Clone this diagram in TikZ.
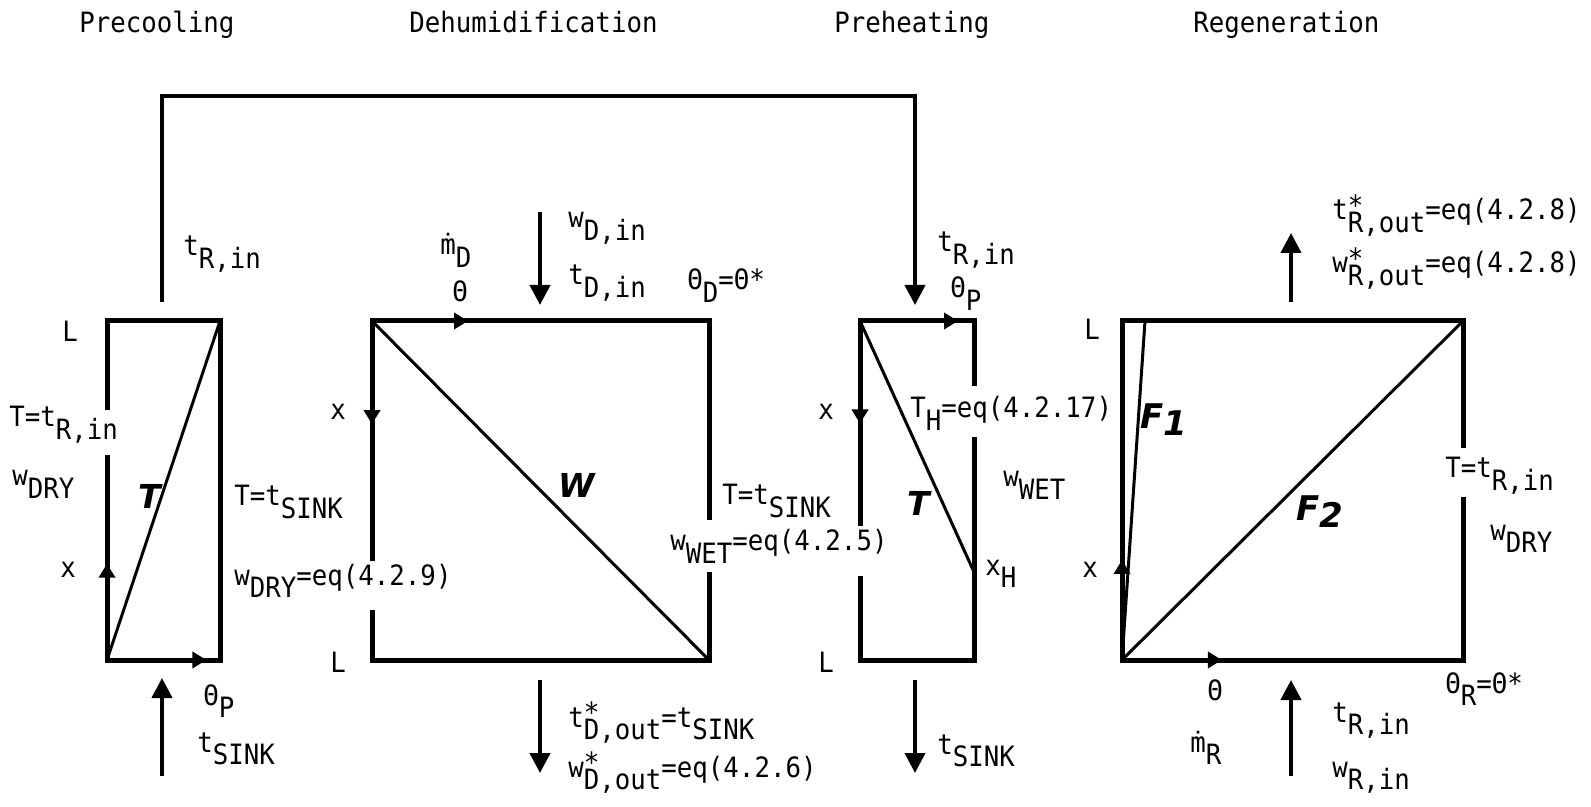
\documentclass[tikz,border=0pt]{standalone}
\usepackage{fontspec}
\setmainfont{DejaVu Sans Mono}[FakeStretch=0.92]
\newfontfamily\handfont{DejaVu Sans}
\usetikzlibrary{arrows.meta, decorations.markings}

% lowered subscript of the same size, and a starred one
\newcommand{\lowsub}[1]{\raisebox{-0.45em}{#1}}
\newcommand{\starsub}[1]{\raisebox{-0.45em}{\rlap{\raisebox{0.62em}{*}}#1}}

\tikzset{
  edge/.style={line width=2.5pt, line join=miter},
  diag/.style={line width=1.5pt},
  flow/.style={line width=2pt, -{Triangle[width=10pt,length=10pt]}},
  loopline/.style={line width=2pt},
  midarrow/.style={
    postaction={decorate},
    decoration={markings,
      mark=at position #1 with {\arrow{Triangle[width=8pt,length=7pt]}}}
  },
  lbl/.style={anchor=base west, inner sep=0pt, font=\fontsize{14}{16}\selectfont},
  curve/.style={anchor=center, inner sep=0pt,
    font=\handfont\bfseries\itshape\fontsize{16.5}{19}\selectfont},
  bigcurve/.style={curve, font=\handfont\bfseries\itshape\fontsize{17}{20}\selectfont}
}

\begin{document}
\begin{tikzpicture}[x=0.5pt, y=-0.5pt]
\useasboundingbox (0,0) rectangle (1591,807);

% Titles
\node[lbl] (ttlPc) at (79,33) {Precooling};
\node[lbl] (ttlDh) at (409,33) {Dehumidification};
\node[lbl] (ttlPh) at (834,33) {Preheating};
\node[lbl] (ttlRg) at (1193,33) {Regeneration};

% Precooling
\coordinate (pcTL) at (107,321);
\coordinate (pcTR) at (220,321);
\coordinate (pcBR) at (220,660);
\coordinate (pcBL) at (107,660);
\coordinate (pcG1) at (107,410);
\coordinate (pcG2) at (107,455);
\draw[edge] (pcG1) -- (pcTL) -- (pcTR) -- (pcBR) -- (pcBL) -- (pcG2);
\draw[edge, midarrow=0.88] (pcBL) -- (pcBR);
\draw[edge, midarrow=0.47] (pcBL) -- (pcG2);
\draw[diag] (pcBL) -- (pcTR);

\node[lbl] (pcTin) at (183,256) {t\lowsub{R,in}};
\node[lbl] (pcL) at (62,342) {L};
\node[lbl] (pcTeq) at (9,427) {T=t\lowsub{R,in}};
\node[lbl] (pcWdry) at (12,486) {w\lowsub{DRY}};
\node[lbl] (pcX) at (60,578) {x};
\node[curve] (pcT) at (150,496) {T};
\node[lbl] (pcTsink) at (234,506) {T=t\lowsub{SINK}};
\node[lbl] (pcWeq) at (234,585) {w\lowsub{DRY}=eq(4.2.9)};
\node[lbl] (pcTheta) at (203,705) {Θ\lowsub{P}};
\node[lbl] (pcSink) at (197,752) {t\lowsub{SINK}};

\coordinate (pcIn) at (162,776);
\coordinate (pcInTip) at (162,678);
\draw[flow] (pcIn) -- (pcInTip);

% loop from precooling to preheating
\coordinate (pcOut) at (162,302);
\coordinate (loopL) at (162,96);
\coordinate (loopR) at (915,96);
\coordinate (phInTip) at (915,305);
\draw[loopline] (pcOut) -- (loopL) -- (loopR) -- (915,150);
\draw[flow] (915,150) -- (phInTip);

% Dehumidification
\coordinate (dhTL) at (372,321);
\coordinate (dhTR) at (709,321);
\coordinate (dhBR) at (709,660);
\coordinate (dhBL) at (372,660);
\coordinate (dhL1) at (372,561);
\coordinate (dhL2) at (372,610);
\coordinate (dhR1) at (709,520);
\coordinate (dhR2) at (709,572);
\draw[edge] (dhR1) -- (dhTR) -- (dhTL) -- (dhL1);
\draw[edge] (dhL2) -- (dhBL) -- (dhBR) -- (dhR2);
\draw[edge, midarrow=0.285] (dhTL) -- (dhTR);
\draw[edge, midarrow=0.43] (dhTL) -- (dhL1);
\draw[diag] (dhTL) -- (dhBR);

\node[lbl] (dhWin) at (568,228) {w\lowsub{D,in}};
\node[lbl] (dhTin) at (568,285) {t\lowsub{D,in}};
\node[lbl] (dhMdot) at (440,255) {ṁ\lowsub{D}};
\node[lbl] (dhTheta) at (452,302) {Θ};
\node[lbl] (dhThetaD) at (687,290) {Θ\lowsub{D}=Θ*};
\node[lbl] (dhX) at (330,420) {x};
\node[curve] (dhW) at (577,485) {W};
\node[lbl] (dhTsink) at (722,505) {T=t\lowsub{SINK}};
\node[lbl] (dhWeq) at (670,551) {w\lowsub{WET}=eq(4.2.5)};
\node[lbl] (dhL) at (330,672) {L};
\node[lbl] (dhTout) at (568,727) {t\starsub{D,out}=t\lowsub{SINK}};
\node[lbl] (dhWout) at (568,777) {w\starsub{D,out}=eq(4.2.6)};

\coordinate (dhIn) at (540,212);
\coordinate (dhInTip) at (540,305);
\coordinate (dhOut) at (540,680);
\coordinate (dhOutTip) at (540,773);
\draw[flow] (dhIn) -- (dhInTip);
\draw[flow] (dhOut) -- (dhOutTip);

% Preheating
\coordinate (phTL) at (860,321);
\coordinate (phTR) at (974,321);
\coordinate (phBR) at (974,660);
\coordinate (phBL) at (860,660);
\coordinate (phL1) at (860,526);
\coordinate (phL2) at (860,576);
\coordinate (phR1) at (974,386);
\coordinate (phR2) at (974,437);
\coordinate (phXH) at (974,572);
\draw[edge] (phR1) -- (phTR) -- (phTL) -- (phL1);
\draw[edge] (phL2) -- (phBL) -- (phBR) -- (phR2);
\draw[edge, midarrow=0.86] (phTL) -- (phTR);
\draw[edge, midarrow=0.5] (phTL) -- (phL1);
\draw[diag] (phTL) -- (phXH);

\node[lbl] (phTin) at (937,252) {t\lowsub{R,in}};
\node[lbl] (phTheta) at (950,298) {Θ\lowsub{P}};
\node[lbl] (phX) at (818,420) {x};
\node[lbl] (phTH) at (910,418) {T\lowsub{H}=eq(4.2.17)};
\node[lbl] (phWwet) at (1003,487) {w\lowsub{WET}};
\node[curve] (phT) at (919,503) {T};
\node[lbl] (phXHl) at (985,575) {x\lowsub{H}};
\node[lbl] (phL) at (818,672) {L};
\node[lbl] (phSink) at (937,754) {t\lowsub{SINK}};

\coordinate (phOut) at (915,680);
\coordinate (phOutTip) at (915,773);
\draw[flow] (phOut) -- (phOutTip);

% Regeneration
\coordinate (rgTL) at (1122,321);
\coordinate (rgTR) at (1463,321);
\coordinate (rgBR) at (1463,660);
\coordinate (rgBL) at (1122,660);
\coordinate (rgR1) at (1463,448);
\coordinate (rgR2) at (1463,497);
\coordinate (rgF1top) at (1145,321);
\draw[edge] (rgR1) -- (rgTR) -- (rgTL) -- (rgBL) -- (rgBR) -- (rgR2);
\draw[edge, midarrow=0.295] (rgBL) -- (rgTL);
\draw[edge, midarrow=0.293] (rgBL) -- (rgBR);
\draw[diag] (rgBL) -- (rgF1top);
\draw[diag] (rgBL) -- (rgTR);

\node[lbl] (rgTout) at (1332,220) {t\starsub{R,out}=eq(4.2.8)};
\node[lbl] (rgWout) at (1332,273) {w\starsub{R,out}=eq(4.2.8)};
\node[lbl] (rgL) at (1084,340) {L};
\node[bigcurve] (rgF1) at (1164,420) {F\raisebox{-0.2em}{1}};
\node[bigcurve] (rgF2) at (1320,512) {F\raisebox{-0.2em}{2}};
\node[lbl] (rgTeq) at (1445,478) {T=t\lowsub{R,in}};
\node[lbl] (rgWdry) at (1490,540) {w\lowsub{DRY}};
\node[lbl] (rgX) at (1082,578) {x};
\node[lbl] (rgTheta) at (1207,700) {Θ};
\node[lbl] (rgMdot) at (1190,752) {ṁ\lowsub{R}};
\node[lbl] (rgTin) at (1332,722) {t\lowsub{R,in}};
\node[lbl] (rgWin) at (1332,777) {w\lowsub{R,in}};
\node[lbl] (rgThetaR) at (1445,693) {Θ\lowsub{R}=Θ*};

\coordinate (rgOut) at (1291,302);
\coordinate (rgOutTip) at (1291,233);
\coordinate (rgIn) at (1291,776);
\coordinate (rgInTip) at (1291,680);
\draw[flow] (rgOut) -- (rgOutTip);
\draw[flow] (rgIn) -- (rgInTip);

\end{tikzpicture}
\end{document}
